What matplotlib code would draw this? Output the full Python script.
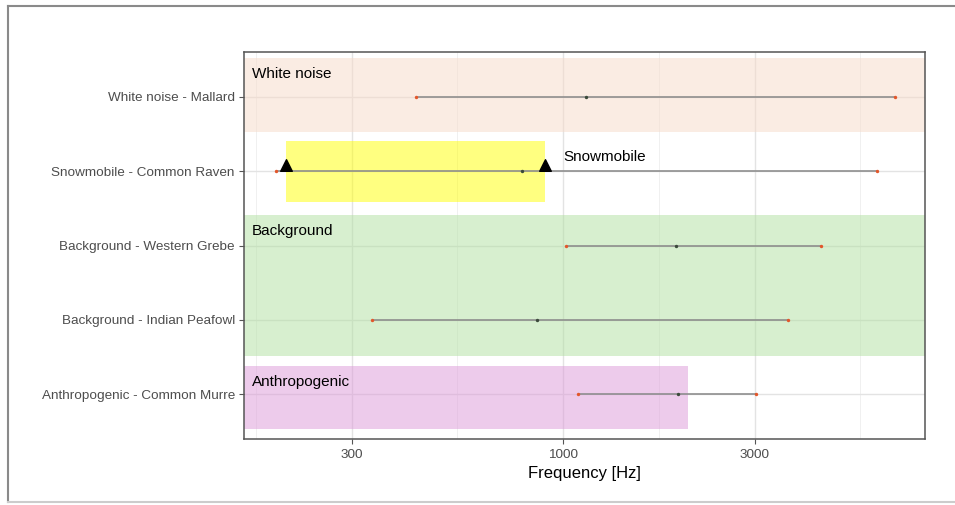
import numpy as np
import matplotlib
matplotlib.use("Agg")
import matplotlib.pyplot as plt
from matplotlib.patches import Rectangle
from matplotlib.lines import Line2D

plt.rcParams['font.family'] = ['Liberation Sans', 'DejaVu Sans']

# data (Hz)
labels = ["Anthropogenic - Common Murre", "Background - Indian Peafowl",
          "Background - Western Grebe", "Snowmobile - Common Raven",
          "White noise - Mallard"]
f_min = [1092, 337, 1019, 194, 432]
f_mid = [1935, 863, 1914, 792, 1143]
f_max = [3027, 3638, 4395, 6060, 6720]

# shaded regions: (label, x0, x1, y0, y1, colour)
regions = [
    ("White noise", None, None, 4.53, 5.52, "#f7dbc9"),
    ("Background", None, None, 1.51, 3.41, "#b1e1a1"),
    ("Anthropogenic", None, 2050, 0.53, 1.38, "#dd99d9"),
    ("", 205, 904, 3.58, 4.41, "#ffff02"),
]
snow_marks = [205, 904]

xlim = (162, 7960)

fig = plt.figure(figsize=(9.55, 5.05), dpi=100)
ax = fig.add_axes([0.256, 0.1307, 0.7126, 0.7663])
ax.set_xscale('log')
ax.set_xlim(*xlim)
ax.set_ylim(0.4, 5.6)

# grid like theme_bw
major = [300, 1000, 3000]
minor = [np.sqrt(100 * 300), np.sqrt(300 * 1000), np.sqrt(1000 * 3000), np.sqrt(3000 * 10000)]
for m in minor:
    ax.axvline(m, color="#eeeeee", lw=0.6, zorder=0)
for m in major:
    ax.axvline(m, color="#e3e3e3", lw=1.0, zorder=0)
y = np.arange(1, len(labels) + 1)
for yy in y:
    ax.axhline(yy, color="#e3e3e3", lw=1.0, zorder=0)

for name, x0, x1, y0, y1, col in regions:
    a = xlim[0] if x0 is None else x0
    b = xlim[1] if x1 is None else x1
    ax.add_patch(Rectangle((a, y0), b - a, y1 - y0, facecolor=col,
                           edgecolor="none", alpha=0.5, zorder=1))
    if name:
        ax.text(169, y1 - 0.12, name, fontsize=11, va="top", ha="left", zorder=5)

ax.hlines(y, f_min, f_max, color="#8c8c8c", lw=1.3, alpha=0.9, zorder=2)
ax.scatter(f_min, y, s=6, color="#e2572b", zorder=3, linewidths=0)
ax.scatter(f_max, y, s=6, color="#e2572b", zorder=3, linewidths=0)
ax.scatter(f_mid, y, s=6, color="#3b4a3b", zorder=3, linewidths=0)

ax.scatter(snow_marks, [4.08, 4.08], marker="^", s=70, color="black", zorder=4)
ax.text(1005, 4.19, "Snowmobile", fontsize=11, va="center", ha="left", zorder=5)

ax.set_xticks(major)
ax.set_xticklabels([str(m) for m in major])
ax.xaxis.set_minor_locator(matplotlib.ticker.NullLocator())
ax.set_yticks(y)
ax.set_yticklabels(labels)
ax.tick_params(axis='both', labelsize=9.7, labelcolor="#4d4d4d", color="#555555",
               length=3.5, width=0.8)
ax.set_xlabel("Frequency [Hz]", fontsize=12, labelpad=4)

for s in ax.spines.values():
    s.set_color("#555555")
    s.set_linewidth(1.1)

# outer frame of the picture
fig.add_artist(Line2D([8 / 955, 8 / 955], [1 - 6 / 505, 1 - 502 / 505],
                      transform=fig.transFigure, color="#8a8a8a", lw=1.5))
fig.add_artist(Line2D([8 / 955, 1.0], [1 - 6 / 505, 1 - 6 / 505],
                      transform=fig.transFigure, color="#8a8a8a", lw=1.5))
fig.add_artist(Line2D([8 / 955, 1.0], [1 - 502 / 505, 1 - 502 / 505],
                      transform=fig.transFigure, color="#cccccc", lw=1.5))

fig.savefig("out.png", dpi=100)
